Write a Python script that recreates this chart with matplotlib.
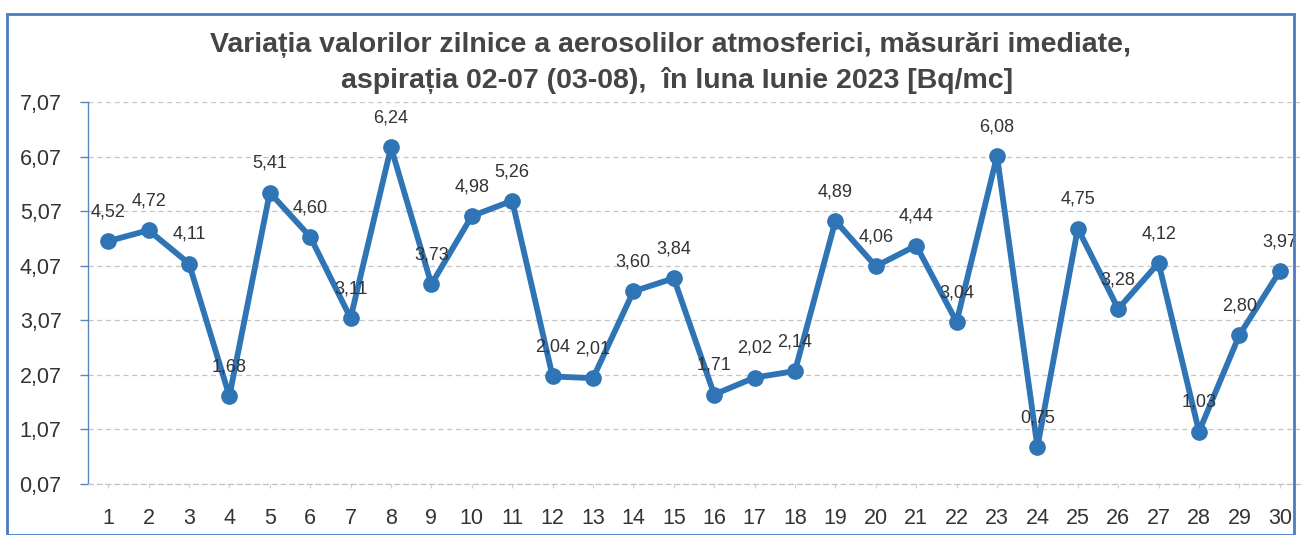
import matplotlib
matplotlib.use("Agg")
import matplotlib.pyplot as plt
from matplotlib.patches import Rectangle

days = list(range(1, 31))
values = [4.52, 4.72, 4.11, 1.68, 5.41, 4.60, 3.11, 6.24, 3.73, 4.98,
          5.26, 2.04, 2.01, 3.60, 3.84, 1.71, 2.02, 2.14, 4.89, 4.06,
          4.44, 3.04, 6.08, 0.75, 4.75, 3.28, 4.12, 1.03, 2.80, 3.97]
yticks = [0.07, 1.07, 2.07, 3.07, 4.07, 5.07, 6.07, 7.07]
title_lines = ["Variația valorilor zilnice a aerosolilor atmosferici, măsurări imediate,",
               "aspirația 02-07 (03-08),  în luna Iunie 2023 [Bq/mc]"]

plt.rcParams['font.family'] = ['Liberation Sans', 'DejaVu Sans']

W, H = 1303, 535
fig = plt.figure(figsize=(W / 100, H / 100), dpi=100)
fig.patch.set_facecolor('white')

ax = fig.add_axes([88 / W, 1 - 484 / H, (1300 - 88) / W, (484 - 102) / H])

line_color = '#2f74b5'
ax.plot(days, values, color=line_color, lw=4.2, marker='o', markersize=11,
        markerfacecolor=line_color, markeredgecolor=line_color, zorder=3,
        solid_joinstyle='round')

for d, v in zip(days, values):
    ax.annotate(f"{v:.2f}".replace('.', ','), (d, v), xytext=(0, 21),
                textcoords='offset points', ha='center', va='center',
                fontsize=13, color='#333333', zorder=4)

ax.set_xlim(0.5, 30.5)
ax.set_ylim(0.07, 7.07)
ax.set_yticks(yticks)
ax.set_yticklabels([f"{t:.2f}".replace('.', ',') for t in yticks])
ax.set_xticks(days)
ax.set_xticklabels([str(d) for d in days])

ax.grid(axis='y', color='#c4c4c4', lw=0.9, ls=(0, (4, 3)))
ax.set_axisbelow(True)

for s in ['top', 'right']:
    ax.spines[s].set_visible(False)
ax.spines['left'].set_color('#5a86bd')
ax.spines['left'].set_linewidth(1.0)
ax.spines['bottom'].set_color('#c4c4c4')
ax.spines['bottom'].set_linewidth(0.9)
ax.spines['bottom'].set_linestyle((0, (4, 3)))

ax.tick_params(axis='y', length=6, width=1.0, color='#5a86bd', pad=13,
               labelsize=15.5, labelcolor='#333333')
ax.tick_params(axis='x', length=3, width=0.8, color='#d0d0d0', pad=14,
               labelsize=15.5, labelcolor='#333333')

fig.text(670 / W, 1 - 45 / H, title_lines[0], ha='center', va='center',
         fontsize=20.5, fontweight='bold', color='#454545')
fig.text(677 / W, 1 - 80 / H, title_lines[1], ha='center', va='center',
         fontsize=20.5, fontweight='bold', color='#454545')

fig.patches.append(Rectangle((7 / W, 0), (1294 - 7) / W, 1 - 14 / H,
                             transform=fig.transFigure, fill=False,
                             edgecolor='#4a7cc0', lw=2.0))

fig.savefig('out.png', dpi=100)
